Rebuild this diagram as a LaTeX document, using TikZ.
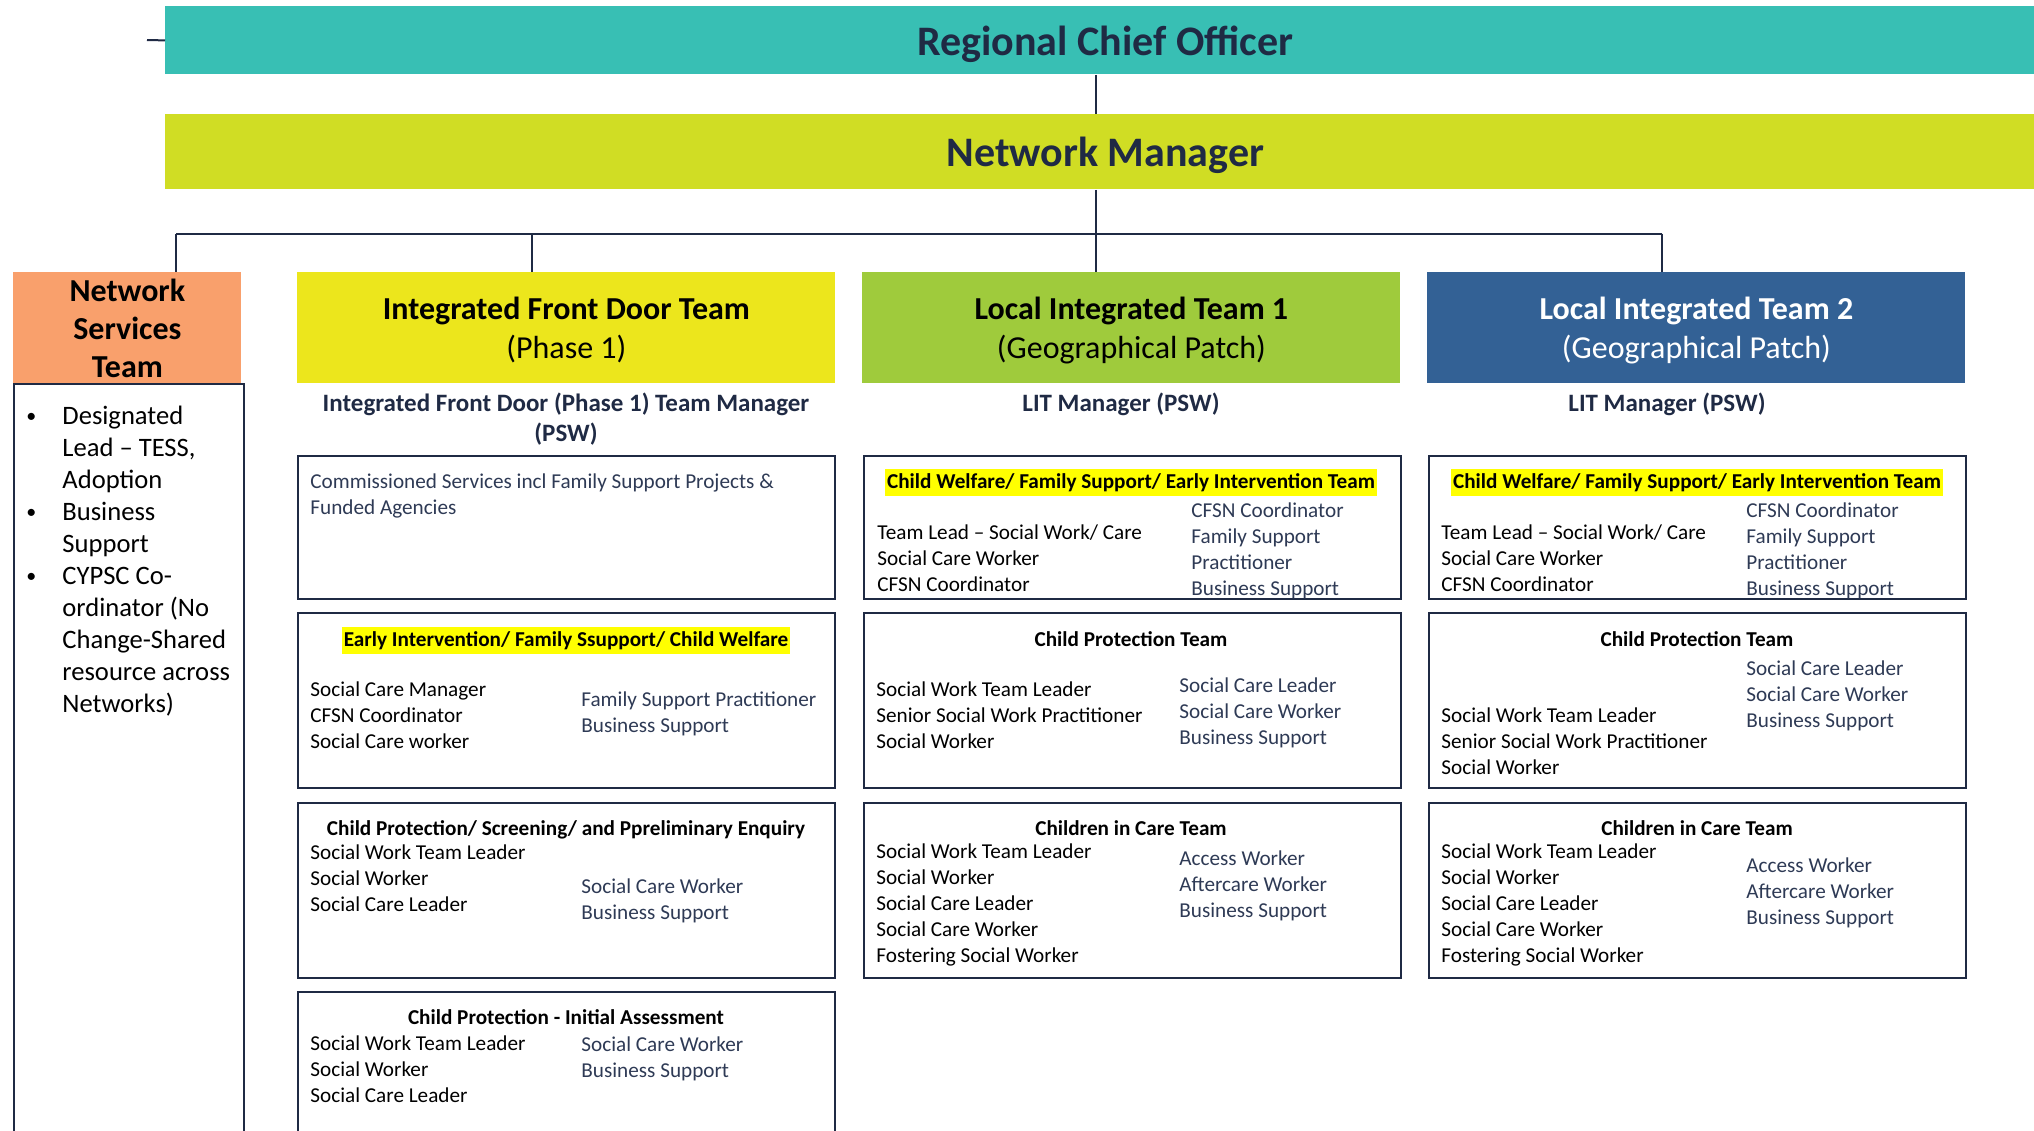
\documentclass[tikz,border=0pt]{standalone}
\usepackage{fontspec}
\setmainfont{Carlito}
\definecolor{rcoteal}{HTML}{38BFB4}
\definecolor{nmlime}{HTML}{D0DD24}
\definecolor{nsorange}{HTML}{F9A06C}
\definecolor{ifdyellow}{HTML}{ECE61C}
\definecolor{litgreen}{HTML}{9FCB3C}
\definecolor{litblue}{HTML}{336195}
\definecolor{navy}{HTML}{1F2A44}
\definecolor{greynavy}{HTML}{2E3A55}
\definecolor{hilite}{HTML}{FFFF00}
\begin{document}
\begin{tikzpicture}[x=0.5pt,y=-0.5pt,
  link/.style={draw=navy,line width=1pt},
  band/.style={anchor=north west,minimum width=940pt,inner sep=0pt,text depth=0pt,text=navy,font=\bfseries\fontsize{21}{25}\selectfont},
  teamhead/.style={anchor=north west,minimum width=269pt,minimum height=55.5pt,inner sep=0pt,text depth=0pt,align=center,font=\fontsize{16}{19.5}\selectfont},
  unitbox/.style={anchor=north west,draw=navy,line width=1pt,minimum width=268.5pt,inner sep=0pt},
  mgr/.style={anchor=base,inner sep=0pt,align=center,text=navy,font=\bfseries\fontsize{12.5}{15}\selectfont},
  unittitle/.style={anchor=base,inner sep=0pt,font=\bfseries\fontsize{10.6}{12.9}\selectfont},
  hilited/.style={unittitle,fill=hilite,inner xsep=1pt,inner ysep=1.5pt,text height=8pt,text depth=2.5pt},
  role/.style={anchor=base west,inner sep=0pt,align=left,font=\fontsize{10.6}{12.9}\selectfont},
  role2/.style={role,text=greynavy}]
\useasboundingbox (0,0) rectangle (2034,1130);
\clip (0,0) rectangle (2034,1130);
% top
\node[band,fill=rcoteal,minimum height=34pt] (rco) at (165,6) {Regional Chief Officer};
\node[band,fill=nmlime,minimum height=37.5pt] (nm) at (165,114) {Network Manager};
\coordinate (hub) at (1096,233.5);
\coordinate (stub) at (147,40);
\draw[link] (rco.west) -- (stub);
\draw[link] (rco.south -| hub) -- (nm.north -| hub);
\draw[link] (nm.south -| hub) -- (hub);
% teams
\node[teamhead,fill=nsorange,minimum width=114pt,font=\bfseries\fontsize{16}{19}\selectfont] (ns) at (13,272) {Network\\Services\\Team};
\node[teamhead,fill=ifdyellow] (ifd) at (297,272) {\textbf{Integrated Front Door Team}\\(Phase 1)};
\node[teamhead,fill=litgreen] (lit1) at (862,272) {\textbf{Local Integrated Team 1}\\(Geographical Patch)};
\node[teamhead,fill=litblue,text=white] (lit2) at (1427,272) {\textbf{Local Integrated Team 2}\\(Geographical Patch)};
\draw[link] (176,0 |- hub) -- (1662,0 |- hub);
\foreach \n/\x in {ns/176,ifd/532,lit1/1096,lit2/1662}
{
    \draw[link] (\x,0 |- hub) -- (\x,0 |- \n.north);
}
% base of a multi-line node = baseline of its last line
\node[mgr] (ifdmgr) at (566,441) {Integrated Front Door (Phase 1) Team Manager\\(PSW)};
\node[mgr] (lit1mgr) at (1121,411) {LIT Manager (PSW)};
\node[mgr] (lit2mgr) at (1667,411) {LIT Manager (PSW)};
% network services
\node[unitbox,minimum width=115pt,minimum height=380pt] (nslist) at (13,383) {};
\node[role,font=\fontsize{13.3}{16}\selectfont] (nsroles) at (62,712) {Designated\\Lead -- TESS,\\Adoption\\Business\\Support\\CYPSC Co-\\ordinator (No\\Change-Shared\\resource across\\Networks)};
\foreach \l in {0,3,5}
{
    \node[role,font=\fontsize{10}{12}\selectfont,yshift=1pt] (nsbullet\l) at (26,{424+\l*32}) {\textbullet};
}
% integrated front door
\node[unitbox,minimum height=71.5pt] (ifdA) at (297,455) {};
\node[role2] (ifdAr) at (310,514) {Commissioned Services incl Family Support Projects \&\\Funded Agencies};
\node[unitbox,minimum height=87.5pt] (ifdB) at (297,612) {};
\node[hilited] (ifdBt) at (566,646) {Early Intervention/ Family Ssupport/ Child Welfare};
\node[role] (ifdBl) at (310,748) {Social Care Manager\\CFSN Coordinator\\Social Care worker};
\node[role2] (ifdBr) at (581,732) {Family Support Practitioner\\Business Support};
\node[unitbox,minimum height=87.5pt] (ifdC) at (297,802) {};
\node[unittitle] (ifdCt) at (566,835) {Child Protection/ Screening/ and Ppreliminary Enquiry};
\node[role] (ifdCl) at (310,911) {Social Work Team Leader\\Social Worker\\Social Care Leader};
\node[role2] (ifdCr) at (581,919) {Social Care Worker\\Business Support};
\node[unitbox,minimum height=80pt] (ifdD) at (297,991) {};
\node[unittitle] (ifdDt) at (566,1024) {Child Protection - Initial Assessment};
\node[role] (ifdDl) at (310,1102) {Social Work Team Leader\\Social Worker\\Social Care Leader};
\node[role2] (ifdDr) at (581,1077) {Social Care Worker\\Business Support};
% local integrated team 1
\node[unitbox,minimum height=71.5pt] (lit1A) at (863,455) {};
\node[hilited] (lit1At) at (1131,488) {Child Welfare/ Family Support/ Early Intervention Team};
\node[role] (lit1Al) at (877,591) {Team Lead -- Social Work/ Care\\Social Care Worker\\CFSN Coordinator};
\node[role2] (lit1Ar) at (1191,595) {CFSN Coordinator\\Family Support\\Practitioner\\Business Support};
\node[unitbox,minimum height=87.5pt] (lit1B) at (863,612) {};
\node[unittitle] (lit1Bt) at (1131,646) {Child Protection Team};
\node[role] (lit1Bl) at (876,748) {Social Work Team Leader\\Senior Social Work Practitioner\\Social Worker};
\node[role2] (lit1Br) at (1179,744) {Social Care Leader\\Social Care Worker\\Business Support};
\node[unitbox,minimum height=87.5pt] (lit1C) at (863,802) {};
\node[unittitle] (lit1Ct) at (1131,835) {Children in Care Team};
\node[role] (lit1Cl) at (876,962) {Social Work Team Leader\\Social Worker\\Social Care Leader\\Social Care Worker\\Fostering Social Worker};
\node[role2] (lit1Cr) at (1179,917) {Access Worker\\Aftercare Worker\\Business Support};
% local integrated team 2
\node[unitbox,minimum height=71.5pt] (lit2A) at (1428,455) {};
\node[hilited] (lit2At) at (1697,488) {Child Welfare/ Family Support/ Early Intervention Team};
\node[role] (lit2Al) at (1441,591) {Team Lead -- Social Work/ Care\\Social Care Worker\\CFSN Coordinator};
\node[role2] (lit2Ar) at (1746,595) {CFSN Coordinator\\Family Support\\Practitioner\\Business Support};
\node[unitbox,minimum height=87.5pt] (lit2B) at (1428,612) {};
\node[unittitle] (lit2Bt) at (1697,646) {Child Protection Team};
\node[role] (lit2Bl) at (1441,774) {Social Work Team Leader\\Senior Social Work Practitioner\\Social Worker};
\node[role2] (lit2Br) at (1746,727) {Social Care Leader\\Social Care Worker\\Business Support};
\node[unitbox,minimum height=87.5pt] (lit2C) at (1428,802) {};
\node[unittitle] (lit2Ct) at (1697,835) {Children in Care Team};
\node[role] (lit2Cl) at (1441,962) {Social Work Team Leader\\Social Worker\\Social Care Leader\\Social Care Worker\\Fostering Social Worker};
\node[role2] (lit2Cr) at (1746,924) {Access Worker\\Aftercare Worker\\Business Support};
\end{tikzpicture}
\end{document}
